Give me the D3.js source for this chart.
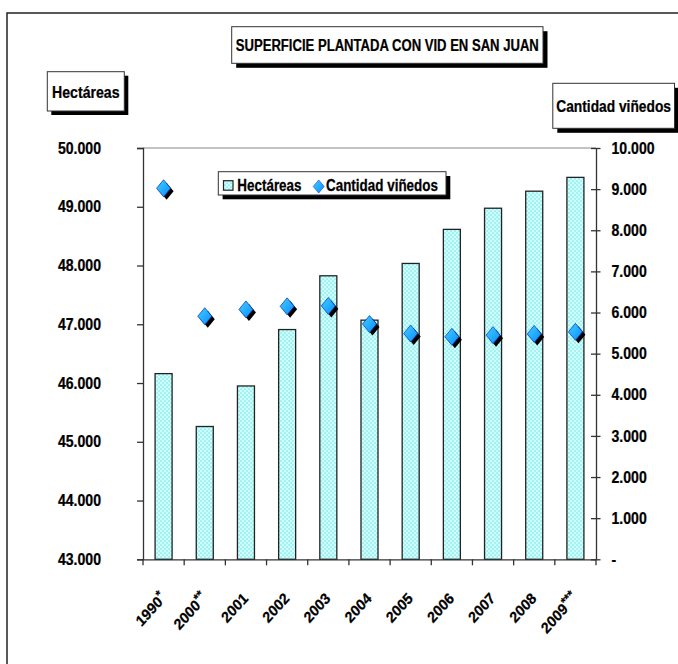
<!DOCTYPE html>
<html>
<head>
<meta charset="utf-8">
<script src="https://cdn.jsdelivr.net/npm/d3@7"></script>
<style>
html,body{margin:0;padding:0;background:#fff;}
svg{display:block;}
text{font-family:"Liberation Sans",Arial,sans-serif;font-weight:bold;fill:#000;stroke:#000;stroke-width:0.25;}
</style>
</head>
<body>
<svg id="chart" width="678" height="664"></svg>
<script>
// ---- data ----
const categories = ["1990", "2000", "2001", "2002", "2003", "2004", "2005", "2006", "2007", "2008", "2009"];
const categorySuffix = ["*", "**", "", "", "", "", "", "", "", "", "***"];
const hectareas = [46160, 45260, 45950, 46910, 47825, 47070, 48035, 48615, 48975, 49265, 49500];
const cantidadVinedos = [9020, 5910, 6075, 6150, 6160, 5720, 5490, 5410, 5450, 5480, 5530];
const leftTicks = [43000, 44000, 45000, 46000, 47000, 48000, 49000, 50000];
const rightTicks = [0, 1000, 2000, 3000, 4000, 5000, 6000, 7000, 8000, 9000, 10000];
const titleText = "SUPERFICIE PLANTADA CON VID EN SAN JUAN";
const leftAxisTitle = "Hectáreas";
const rightAxisTitle = "Cantidad viñedos";
const seriesNames = ["Hectáreas", "Cantidad viñedos"];

// ---- layout ----
const svg = d3.select("#chart");
const plot = {left: 143, right: 596, top: 148, bottom: 559.3};
const loc = d3.formatLocale({decimal: ",", thousands: ".", grouping: [3], currency: ["", ""]});
const fmt = loc.format(",.0f");

const x = d3.scaleBand().domain(categories).range([plot.left, plot.right]).paddingInner(0.587).paddingOuter(0.2935);
const yL = d3.scaleLinear().domain([43000, 50000]).range([plot.bottom, plot.top]);
const yR = d3.scaleLinear().domain([0, 10000]).range([plot.bottom, plot.top]);

const defs = svg.append("defs");
const pat = defs.append("pattern").attr("id", "dots").attr("width", 4).attr("height", 4).attr("patternUnits", "userSpaceOnUse");
pat.append("rect").attr("width", 4).attr("height", 4).attr("fill", "#ccffff");
pat.append("rect").attr("x", 0.5).attr("y", 0.5).attr("width", 1.1).attr("height", 1.1).attr("fill", "#4fd0d0");
pat.append("rect").attr("x", 2.5).attr("y", 2.5).attr("width", 1.1).attr("height", 1.1).attr("fill", "#4fd0d0");
const grad = defs.append("linearGradient").attr("id", "dia").attr("x1", 0).attr("y1", 0).attr("x2", 1).attr("y2", 1);
grad.append("stop").attr("offset", "0%").attr("stop-color", "#3fd0ff");
grad.append("stop").attr("offset", "100%").attr("stop-color", "#0a8cff");

// outer border
svg.append("rect").attr("x", 7).attr("y", 13).attr("width", 720).attr("height", 700)
  .attr("fill", "none").attr("stroke", "#222").attr("stroke-width", 1.5);

// helper: condensed text (horizontal squeeze applied in screen space)
function ctext(g, tx, ty, str, size, k, anchor, rot) {
  const t = g.append("text")
    .attr("transform", `translate(${tx},${ty}) scale(${k},1)` + (rot ? ` rotate(${rot})` : ""))
    .attr("font-size", size).attr("text-anchor", anchor || "start").text(str);
  return t;
}
// helper: box with shadow
function shadowBox(x0, y0, x1, y1, off) {
  svg.append("rect").attr("x", x0 + off).attr("y", y0 + off).attr("width", x1 - x0).attr("height", y1 - y0).attr("fill", "#000");
  svg.append("rect").attr("x", x0).attr("y", y0).attr("width", x1 - x0).attr("height", y1 - y0)
    .attr("fill", "#fff").attr("stroke", "#333").attr("stroke-width", 1);
}

// title & axis titles
shadowBox(231.7, 26.7, 543, 63.3, 4.5);
ctext(svg, 387.3, 51, titleText, 17, 0.77, "middle");
shadowBox(47.3, 71.7, 124.3, 111, 4);
ctext(svg, 85.8, 97.5, leftAxisTitle, 17, 0.83, "middle");
shadowBox(552.8, 83.3, 674.5, 128.3, 4.5);
ctext(svg, 613.6, 112, rightAxisTitle, 17, 0.81, "middle");

// plot top border
svg.append("line").attr("x1", plot.left).attr("x2", plot.right).attr("y1", plot.top).attr("y2", plot.top)
  .attr("stroke", "#888").attr("stroke-width", 1);

// bars
svg.append("g").selectAll("rect").data(categories).join("rect")
  .attr("x", d => x(d)).attr("width", x.bandwidth())
  .attr("y", (d, i) => yL(hectareas[i])).attr("height", (d, i) => yL(43000) - yL(hectareas[i]))
  .attr("fill", "url(#dots)").attr("stroke", "#222").attr("stroke-width", 1.3);

// left axis
const gL = svg.append("g").attr("transform", `translate(${plot.left},0)`)
  .call(d3.axisLeft(yL).tickValues(leftTicks).tickSize(6).tickFormat(""));
gL.selectAll("path,line").attr("stroke", "#333").attr("stroke-width", 1.3);
leftTicks.forEach(v => ctext(svg, 101, yL(v) + 5.7, fmt(v), 16, 0.88, "end"));

// right axis (cross ticks)
const gR = svg.append("g").attr("transform", `translate(${plot.right},0)`)
  .call(d3.axisRight(yR).tickValues(rightTicks).tickSizeInner(4.5).tickSizeOuter(0).tickFormat(""));
gR.selectAll("path,line").attr("stroke", "#333").attr("stroke-width", 1.3);
gR.selectAll(".tick line").attr("x1", -5);
rightTicks.forEach(v => ctext(svg, 611.5, yR(v) + 5.7, v === 0 ? "-" : fmt(v), 16, 0.88, "start"));

// bottom axis
const gB = svg.append("g").attr("transform", `translate(0,${plot.bottom})`)
  .call(d3.axisBottom(x).tickSize(0).tickFormat(""));
gB.select("path").attr("stroke", "#333").attr("stroke-width", 1.3);
const bounds = categories.map(c => x(c) - x.step() * x.paddingInner() / 2).concat([plot.right]);
svg.append("g").selectAll("line").data(bounds).join("line")
  .attr("x1", d => d).attr("x2", d => d).attr("y1", plot.bottom).attr("y2", plot.bottom + 6)
  .attr("stroke", "#333").attr("stroke-width", 1.3);

// x labels
categories.forEach((c, i) => {
  const cx = x(c) + x.bandwidth() / 2;
  const t = ctext(svg, cx + 3, plot.bottom + 40, "", 15.5, 0.9, "end", -45);
  t.append("tspan").text(c);
  if (categorySuffix[i]) t.append("tspan").attr("font-size", 13).attr("dy", -5).text(categorySuffix[i]);
});

// diamonds
function diamondPath(cx, cy, hw, hh) {
  return `M${cx},${cy - hh}L${cx + hw},${cy}L${cx},${cy + hh}L${cx - hw},${cy}Z`;
}
const gD = svg.append("g");
categories.forEach((c, i) => {
  const cx = x(c) + x.bandwidth() / 2;
  const cy = yR(cantidadVinedos[i]);
  gD.append("path").attr("d", diamondPath(cx + 3, cy + 3, 7, 8.5)).attr("fill", "#000");
  gD.append("path").attr("d", diamondPath(cx, cy, 7, 8.5)).attr("fill", "url(#dia)").attr("stroke", "#1040c0").attr("stroke-width", 0.8);
});

// legend
shadowBox(218.3, 171.7, 446, 195, 4.3);
svg.append("rect").attr("x", 223.5).attr("y", 180.7).attr("width", 9.5).attr("height", 9.5)
  .attr("fill", "url(#dots)").attr("stroke", "#222").attr("stroke-width", 1.2);
ctext(svg, 237.3, 191.3, seriesNames[0], 16, 0.84, "start");
svg.append("path").attr("d", diamondPath(318.7, 186.5, 5.5, 6.5)).attr("fill", "url(#dia)").attr("stroke", "#1040c0").attr("stroke-width", 0.6);
ctext(svg, 326, 191.3, seriesNames[1], 16, 0.84, "start");
</script>
</body>
</html>
